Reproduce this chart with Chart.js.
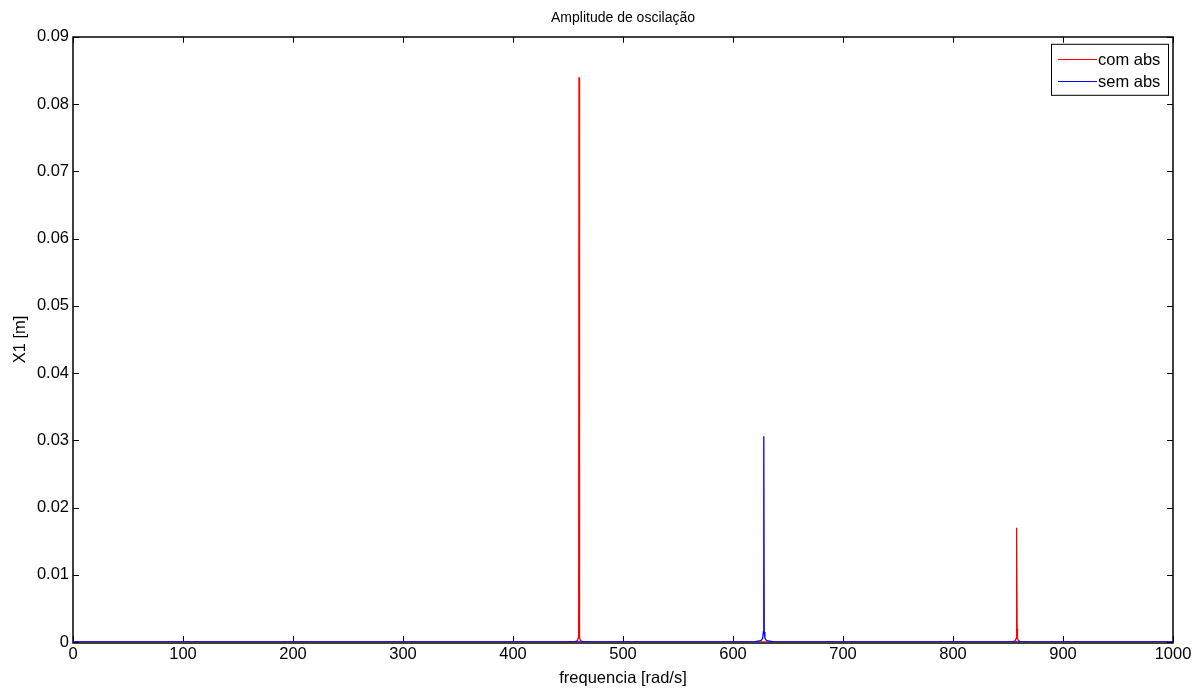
<!DOCTYPE html>
<html>
<head>
<meta charset="utf-8">
<script src="https://cdn.jsdelivr.net/npm/chart.js@4"></script>
<style>
  html, body { margin: 0; padding: 0; background: #fff; }
  #wrap { width: 1204px; height: 689px; }
</style>
</head>
<body>
<div id="wrap"><canvas id="ampChart"></canvas></div>
<script>
// valores
const freqCom = [0, 200, 400, 450, 457, 458.5, 459.3, 459.7, 460, 460.3, 460.7, 461.5, 463, 470, 500, 600, 628, 700, 800, 850, 855, 856.5, 857.3, 857.7, 858, 858.3, 858.7, 859.5, 861, 866, 900, 1000];
const ampCom  = [0.00001, 0.00001, 0.00002, 0.00005, 0.0001, 0.0002, 0.0006, 0.003, 0.084, 0.003, 0.0006, 0.0002, 0.0001, 0.00005, 0.00002, 0.00001, 0.0, 0.00001, 0.00002, 0.00005, 0.0001, 0.0002, 0.0005, 0.002, 0.017, 0.002, 0.0005, 0.0002, 0.0001, 0.00005, 0.00002, 0.00001];

const freqSem = [0, 200, 400, 600, 620, 624, 626, 627, 627.6, 628, 628.4, 629, 630, 632, 636, 700, 800, 1000];
const ampSem  = [0.00001, 0.00001, 0.00001, 0.00003, 0.00006, 0.00015, 0.0003, 0.0006, 0.0015, 0.0306, 0.0015, 0.0006, 0.0003, 0.00015, 0.00006, 0.00002, 0.00001, 0.00001];

const xTicks = [0, 100, 200, 300, 400, 500, 600, 700, 800, 900, 1000];
const yTicks = [0, 0.01, 0.02, 0.03, 0.04, 0.05, 0.06, 0.07, 0.08, 0.09];

const legendItems = [
    { label: 'com abs', color: '#ff0000' },
    { label: 'sem abs', color: '#0000ff' }
];

const toPoints = (xs, ys) => xs.map((x, i) => ({ x: x, y: ys[i] }));

const fontFamily = '"Liberation Sans", Arial, Helvetica, sans-serif';

// caixa, marcas internas e legenda no estilo matlab
const matlabFrame = {
    id: 'matlabFrame',
    beforeDatasetsDraw(chart) {
        const { ctx, chartArea: a, scales } = chart;
        const tl = 6;
        ctx.save();
        ctx.strokeStyle = '#000';
        ctx.lineWidth = 1;
        ctx.beginPath();
        scales.x.ticks.forEach(t => {
            const px = Math.round(scales.x.getPixelForValue(t.value)) + 0.5;
            ctx.moveTo(px, a.bottom); ctx.lineTo(px, a.bottom - tl);
            ctx.moveTo(px, a.top); ctx.lineTo(px, a.top + tl);
        });
        scales.y.ticks.forEach(t => {
            const py = Math.round(scales.y.getPixelForValue(t.value)) + 0.5;
            ctx.moveTo(a.left, py); ctx.lineTo(a.left + tl, py);
            ctx.moveTo(a.right, py); ctx.lineTo(a.right - tl, py);
        });
        ctx.stroke();
        ctx.lineWidth = 1.5;
        ctx.strokeRect(Math.round(a.left), Math.round(a.top), Math.round(a.right - a.left), Math.round(a.bottom - a.top) + 1);
        ctx.restore();
    },
    afterDatasetsDraw(chart) {
        const { ctx, chartArea: a } = chart;
        ctx.save();
        const bx = a.right - 122, by = a.top + 7, bw = 117, bh = 51;
        ctx.fillStyle = '#fff';
        ctx.fillRect(bx, by, bw, bh);
        ctx.lineWidth = 1;
        ctx.strokeStyle = '#000';
        ctx.strokeRect(bx + 0.5, by + 0.5, bw, bh);
        ctx.font = '16.5px ' + fontFamily;
        ctx.textBaseline = 'middle';
        legendItems.forEach((it, i) => {
            const y = Math.round(by + 15 + i * 22.5);
            ctx.fillStyle = it.color;
            ctx.fillRect(bx + 7, y, 39, 1);
            ctx.fillStyle = '#000';
            ctx.fillText(it.label, bx + 47, y + 1);
        });
        ctx.restore();
    }
};

const ampCtx = document.getElementById('ampChart').getContext('2d');
const ampChart = new Chart(ampCtx, {
    type: 'line',
    data: {
        datasets: [
            {
                label: 'com abs',
                data: toPoints(freqCom, ampCom),
                borderColor: '#ff0000',
                borderWidth: 1.3,
                pointRadius: 0,
                tension: 0,
                fill: false,
                order: 1
            },
            {
                label: 'sem abs',
                data: toPoints(freqSem, ampSem),
                borderColor: '#0000ff',
                borderWidth: 1.3,
                pointRadius: 0,
                tension: 0,
                fill: false,
                order: 0
            }
        ]
    },
    options: {
        responsive: true,
        maintainAspectRatio: false,
        animation: false,
        layout: { padding: { top: 2, right: 31, bottom: 0, left: 0 } },
        plugins: {
            legend: { display: false },
            tooltip: { enabled: false },
            title: {
                display: true,
                fullSize: false,
                text: 'Amplitude de oscilação',
                color: '#000',
                font: { family: fontFamily, size: 14, weight: 'normal' },
                padding: { top: 8, bottom: 10 }
            }
        },
        scales: {
            x: {
                type: 'linear',
                min: 0,
                max: 1000,
                afterBuildTicks: s => { s.ticks = xTicks.map(v => ({ value: v })); },
                afterFit: s => { s.height = 47; },
                grid: { display: false, drawTicks: false },
                border: { display: false },
                ticks: {
                    color: '#000',
                    padding: 3,
                    maxRotation: 0,
                    font: { family: fontFamily, size: 16.5 },
                    callback: v => String(v)
                },
                title: {
                    display: true,
                    text: 'frequencia [rad/s]',
                    color: '#000',
                    font: { family: fontFamily, size: 16.5 },
                    padding: { top: 0, bottom: 1 }
                }
            },
            y: {
                type: 'linear',
                min: 0,
                max: 0.09,
                afterBuildTicks: s => { s.ticks = yTicks.map(v => ({ value: v })); },
                afterFit: s => { s.width = 73; },
                grid: { display: false, drawTicks: false },
                border: { display: false },
                ticks: {
                    color: '#000',
                    padding: 4,
                    font: { family: fontFamily, size: 16.5 },
                    callback: v => String(Math.round(v * 100) / 100)
                },
                title: {
                    display: true,
                    text: 'X1 [m]',
                    color: '#000',
                    font: { family: fontFamily, size: 16.5 },
                    padding: { top: 11, bottom: 0 }
                }
            }
        }
    },
    plugins: [matlabFrame]
});
</script>
</body>
</html>
